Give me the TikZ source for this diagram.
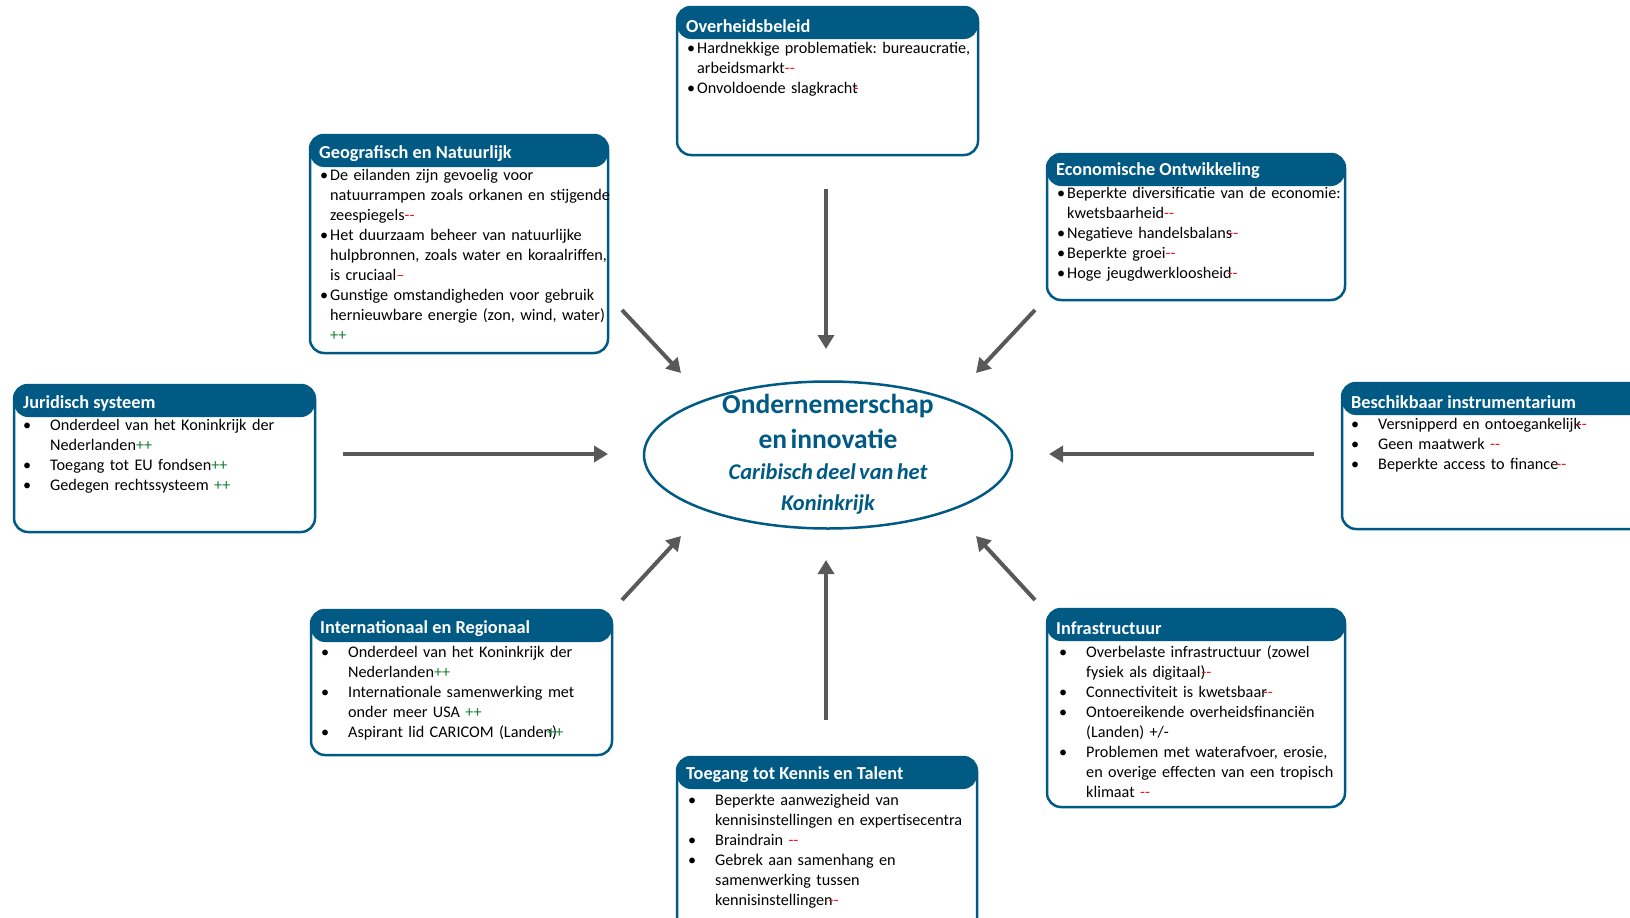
\documentclass[tikz,border=0pt]{standalone}
\usepackage{fontspec}
\setmainfont{Carlito}
\usetikzlibrary{arrows.meta,shapes.geometric}

\definecolor{kopblauw}{RGB}{0,90,132}
\definecolor{pijlgrijs}{RGB}{89,89,89}
\definecolor{rood}{RGB}{228,30,30}
\definecolor{groen}{RGB}{20,125,50}

\frenchspacing
\newlength{\inspring}
\newcommand{\punt}{\par\noindent\hangindent=\inspring\hangafter=1\makebox[\inspring][l]{\textbullet}}
\newcommand{\negmark}{{\color{rood}-{}-}}
\newcommand{\negover}{\kern-4pt{\color{rood}-{}-}}
\newcommand{\posmark}{{\color{groen}++}}

\tikzset{
  kader/.style={draw=kopblauw, line width=2.5pt, rounded corners=14pt, anchor=north west,
    inner sep=0pt, outer sep=0pt,
    path picture={\fill[kopblauw] (path picture bounding box.north west)
      rectangle ([yshift=-32pt]path picture bounding box.north east);}},
  kop/.style={anchor=west, text=white, inner sep=0pt, font=\fontsize{18.3}{20}\selectfont\bfseries},
  lijst/.style={anchor=north west, inner sep=0pt, text width=360pt, align=left,
    font=\fontsize{16.2}{20}\selectfont},
  nauw/.style={lijst, execute at begin node={\setlength{\inspring}{10pt}}},
  breed/.style={lijst, execute at begin node={\setlength{\inspring}{27pt}}},
  middenvlak/.style={ellipse, draw=kopblauw, line width=2.5pt, inner sep=0pt},
  middentekst/.style={text=kopblauw, text width=360pt, align=center, inner sep=0pt},
  pijl/.style={draw=pijlgrijs, line width=4pt, -{Triangle[length=14pt,width=16pt]}}
}

\begin{document}
\begin{tikzpicture}[x=1pt,y=-1pt]
\useasboundingbox (0,0) rectangle (1630,918);

% centrale ellips
\node[middenvlak, minimum width=368pt, minimum height=147pt] (midden) at (828,455) {};
\node[middentekst] (midden-tekst) at ([yshift=1pt]midden.center) {%
  {\fontsize{27.5}{35}\selectfont\bfseries Ondernemerschap\\ en innovatie\par}
  {\fontsize{22.5}{31}\selectfont\bfseries\itshape Caribisch deel van het\\ Koninkrijk\par}};

% Overheidsbeleid
\node[kader, minimum width=301pt, minimum height=148pt] (beleid) at (677,7) {};
\node[kop] (beleid-kop) at ([xshift=9pt,yshift=-19pt]beleid.north west) {Overheidsbeleid};
\node[nauw] (beleid-tekst) at ([xshift=10pt,yshift=-26pt]beleid.north west) {%
  \punt Hardnekkige problematiek: bureaucratie,\newline arbeidsmarkt\negmark
  \punt Onvoldoende slagkracht\kern-4pt{\color{rood}-}\par};

% Geografisch en Natuurlijk
\node[kader, minimum width=298pt, minimum height=218pt] (geo) at (310,135) {};
\node[kop] (geo-kop) at ([xshift=9pt,yshift=-19pt]geo.north west) {Geografisch en Natuurlijk};
\node[nauw] (geo-tekst) at ([xshift=10pt,yshift=-25pt]geo.north west) {%
  \punt De eilanden zijn gevoelig voor\newline natuurrampen zoals orkanen en stijgende\newline zeespiegels\negmark
  \punt Het duurzaam beheer van natuurlijke\newline hulpbronnen, zoals water en koraalriffen,\newline is cruciaal{\color{rood}--}
  \punt Gunstige omstandigheden voor gebruik\newline hernieuwbare energie (zon, wind, water)\newline \posmark\par};

% Economische Ontwikkeling
\node[kader, minimum width=298pt, minimum height=146pt] (econ) at (1047,154) {};
\node[kop] (econ-kop) at ([xshift=9pt,yshift=-17pt]econ.north west) {Economische Ontwikkeling};
\node[nauw] (econ-tekst) at ([xshift=10pt,yshift=-24pt]econ.north west) {%
  \punt Beperkte diversificatie van de economie:\newline kwetsbaarheid\negmark
  \punt Negatieve handelsbalans\negover
  \punt Beperkte groei\negmark
  \punt Hoge jeugdwerkloosheid\negover\par};

% Juridisch systeem
\node[kader, minimum width=301pt, minimum height=147pt] (jur) at (14,385) {};
\node[kop] (jur-kop) at ([xshift=9pt,yshift=-19pt]jur.north west) {Juridisch systeem};
\node[breed] (jur-tekst) at ([xshift=9pt,yshift=-25pt]jur.north west) {%
  \punt Onderdeel van het Koninkrijk der\newline Nederlanden\posmark
  \punt Toegang tot EU fondsen\posmark
  \punt Gedegen rechtssysteem \posmark\par};

% Beschikbaar instrumentarium
\node[kader, minimum width=310pt, minimum height=146pt] (instr) at (1342,383) {};
\node[kop] (instr-kop) at ([xshift=9pt,yshift=-19pt]instr.north west) {Beschikbaar instrumentarium};
\node[breed] (instr-tekst) at ([xshift=9pt,yshift=-26pt]instr.north west) {%
  \punt Versnipperd en ontoegankelijk\negover
  \punt Geen maatwerk \negmark
  \punt Beperkte access to finance\kern-2pt\negmark\par};

% Internationaal en Regionaal
\node[kader, minimum width=301pt, minimum height=145pt] (intl) at (311,610) {};
\node[kop] (intl-kop) at ([xshift=9pt,yshift=-19pt]intl.north west) {Internationaal en Regionaal};
\node[breed] (intl-tekst) at ([xshift=10pt,yshift=-27pt]intl.north west) {%
  \punt Onderdeel van het Koninkrijk der\newline Nederlanden\posmark
  \punt Internationale samenwerking met\newline onder meer USA \posmark
  \punt Aspirant lid CARICOM (Landen)\kern-10pt{\color{groen}++}\par};

% Infrastructuur
\node[kader, minimum width=298pt, minimum height=198pt] (infra) at (1047,609) {};
\node[kop] (infra-kop) at ([xshift=9pt,yshift=-19pt]infra.north west) {Infrastructuur};
\node[breed] (infra-tekst) at ([xshift=12pt,yshift=-28pt]infra.north west) {%
  \punt Overbelaste infrastructuur (zowel\newline fysiek als digitaal)\negover
  \punt Connectiviteit is kwetsbaar\negover
  \punt Ontoereikende overheidsfinanciën\newline (Landen) +/-
  \punt Problemen met waterafvoer, erosie,\newline en overige effecten van een tropisch\newline klimaat \negmark\par};

% Toegang tot Kennis en Talent
\node[kader, minimum width=300pt, minimum height=180pt] (kennis) at (677,757) {};
\node[kop] (kennis-kop) at ([xshift=9pt,yshift=-18pt]kennis.north west) {Toegang tot Kennis en Talent};
\node[breed] (kennis-tekst) at ([xshift=11pt,yshift=-28pt]kennis.north west) {%
  \punt Beperkte aanwezigheid van\newline kennisinstellingen en expertisecentra
  \punt Braindrain \negmark
  \punt Gebrek aan samenhang en\newline samenwerking tussen\newline kennisinstellingen\negover\par};

% pijlen naar het midden
\coordinate (p-boven) at (826,189);   \coordinate (q-boven) at (826,349);
\coordinate (p-lb) at (622,310);      \coordinate (q-lb) at (681,373);
\coordinate (p-rb) at (1035,310);     \coordinate (q-rb) at (976,373);
\coordinate (p-links) at (343,454);   \coordinate (q-links) at (608,454);
\coordinate (p-rechts) at (1314,454); \coordinate (q-rechts) at (1049,454);
\coordinate (p-lo) at (622,600);      \coordinate (q-lo) at (681,536);
\coordinate (p-onder) at (826,720);   \coordinate (q-onder) at (826,560);
\coordinate (p-ro) at (1035,600);     \coordinate (q-ro) at (976,536);
\foreach \w in {boven,lb,rb,links,rechts,lo,onder,ro}
  \draw[pijl] (p-\w) -- (q-\w);

\end{tikzpicture}
\end{document}
